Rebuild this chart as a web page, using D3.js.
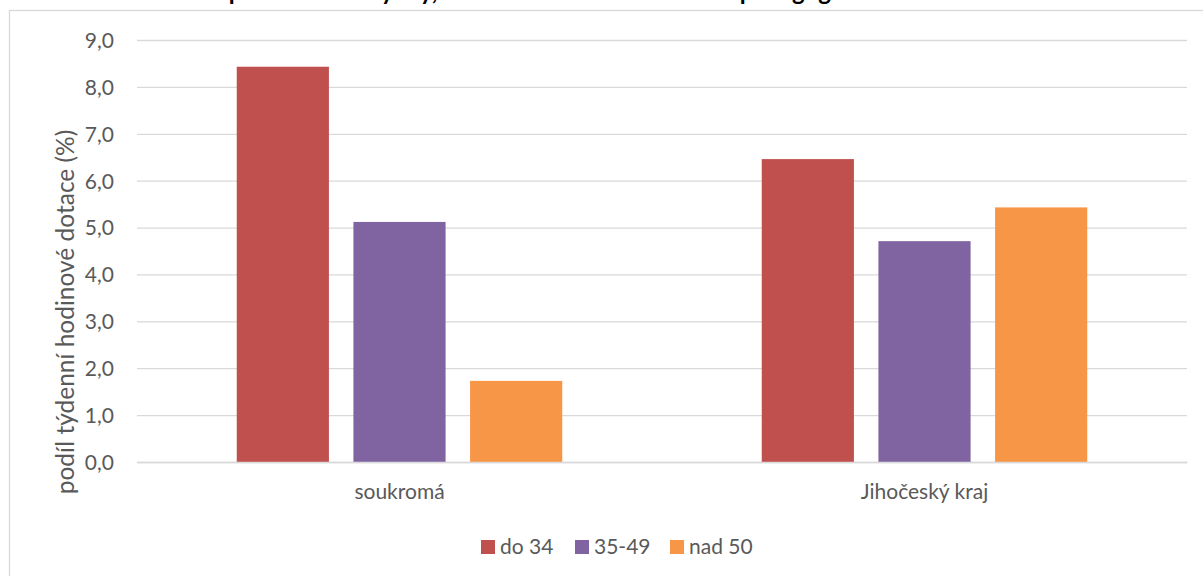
<!DOCTYPE html>
<html>
<head>
<meta charset="utf-8">
<script src="https://cdn.jsdelivr.net/npm/d3@7"></script>
<style>
  html, body { margin: 0; padding: 0; background: #fff; }
  svg { display: block; }
  text { font-family: Lato, "Noto Sans", sans-serif; }
</style>
</head>
<body>
<svg id="chart" width="1203" height="576"></svg>
<script>
const categories = ["soukromá", "Jihočeský kraj"];
const seriesNames = ["do 34", "35-49", "nad 50"];
const seriesColors = ["#C0504D", "#8064A2", "#F79646"];
const valuesDo34 = [8.43, 6.46];
const values35to49 = [5.12, 4.71];
const valuesNad50 = [1.73, 5.43];
const yTicks = [0, 1, 2, 3, 4, 5, 6, 7, 8, 9];
const yAxisTitle = "podíl týdenní hodinové dotace (%)";
const chartTitle = "Aprobovanost výuky, rozdělení dle věku učitelů – pedagogové";

const seriesValues = [valuesDo34, values35to49, valuesNad50];
const data = categories.map((c, i) => ({
  category: c,
  values: seriesNames.map((s, j) => ({ series: s, value: seriesValues[j][i], color: seriesColors[j] }))
}));

const svg = d3.select("#chart");
const W = 1203, H = 576;
const plot = { left: 137, right: 1187, top: 40, bottom: 462 };
const textColor = "#595959";
const fs = 21;

svg.append("rect").attr("width", W).attr("height", H).attr("fill", "#fff");
svg.append("rect")
  .attr("x", 9.5).attr("y", 10.5).attr("width", W + 20).attr("height", H + 20)
  .attr("fill", "none").attr("stroke", "#d9d9d9").attr("stroke-width", 1.3);

// title (cut off at the top edge, as in the reference)
svg.append("text")
  .attr("x", 212).attr("y", -0.5)
  .attr("text-anchor", "start")
  .attr("font-weight", "bold")
  .attr("font-size", 24)
  .attr("fill", "#000")
  .text(chartTitle);

const y = d3.scaleLinear().domain([0, 9]).range([plot.bottom, plot.top]);
const x0 = d3.scaleBand().domain(categories).range([plot.left, plot.right]).padding(0);
const x1 = d3.scaleBand().domain(seriesNames)
  .range([x0.bandwidth() * 0.19, x0.bandwidth() * 0.81])
  .paddingInner(0.21).paddingOuter(0);

// gridlines + tick labels
const yAxis = d3.axisLeft(y).tickValues(yTicks).tickSize(-(plot.right - plot.left))
  .tickFormat(d => d3.format(".1f")(d).replace(".", ","));
const gy = svg.append("g").attr("transform", `translate(${plot.left},0)`).call(yAxis);
gy.select(".domain").remove();
gy.selectAll(".tick line").attr("stroke", "#d9d9d9").attr("stroke-width", 1.3);
gy.selectAll(".tick text")
  .attr("x", -23).attr("dy", "0.35em")
  .attr("fill", textColor).attr("font-size", fs)
  .attr("font-family", "Lato, 'Noto Sans', sans-serif");

// bars
const groups = svg.append("g").selectAll("g").data(data).join("g")
  .attr("transform", d => `translate(${x0(d.category)},0)`);
groups.selectAll("rect").data(d => d.values).join("rect")
  .attr("x", d => x1(d.series))
  .attr("width", x1.bandwidth())
  .attr("y", d => y(d.value))
  .attr("height", d => y(0) - y(d.value))
  .attr("fill", d => d.color);

// category axis
const xAxis = d3.axisBottom(x0).tickSize(0).tickPadding(0);
const gx = svg.append("g").attr("transform", `translate(0,${plot.bottom})`).call(xAxis);
gx.select(".domain").attr("stroke", "#d9d9d9").attr("stroke-width", 1.3);
gx.selectAll(".tick text")
  .attr("y", 30).attr("dy", "0.35em")
  .attr("fill", textColor).attr("font-size", fs)
  .attr("font-family", "Lato, 'Noto Sans', sans-serif");

// y axis title
svg.append("text")
  .attr("transform", `translate(74,312) rotate(-90)`)
  .attr("text-anchor", "middle")
  .attr("fill", textColor).attr("font-size", 24.5)
  .text(yAxisTitle);

// legend
const legendX = [481, 575, 670];
const lg = svg.append("g").selectAll("g").data(seriesNames).join("g")
  .attr("transform", (d, i) => `translate(${legendX[i]},540)`);
lg.append("rect").attr("width", 14).attr("height", 14).attr("fill", (d, i) => seriesColors[i]);
lg.append("text").attr("x", 19).attr("y", 7).attr("dy", "0.35em")
  .attr("fill", textColor).attr("font-size", fs).text(d => d);
</script>
</body>
</html>
